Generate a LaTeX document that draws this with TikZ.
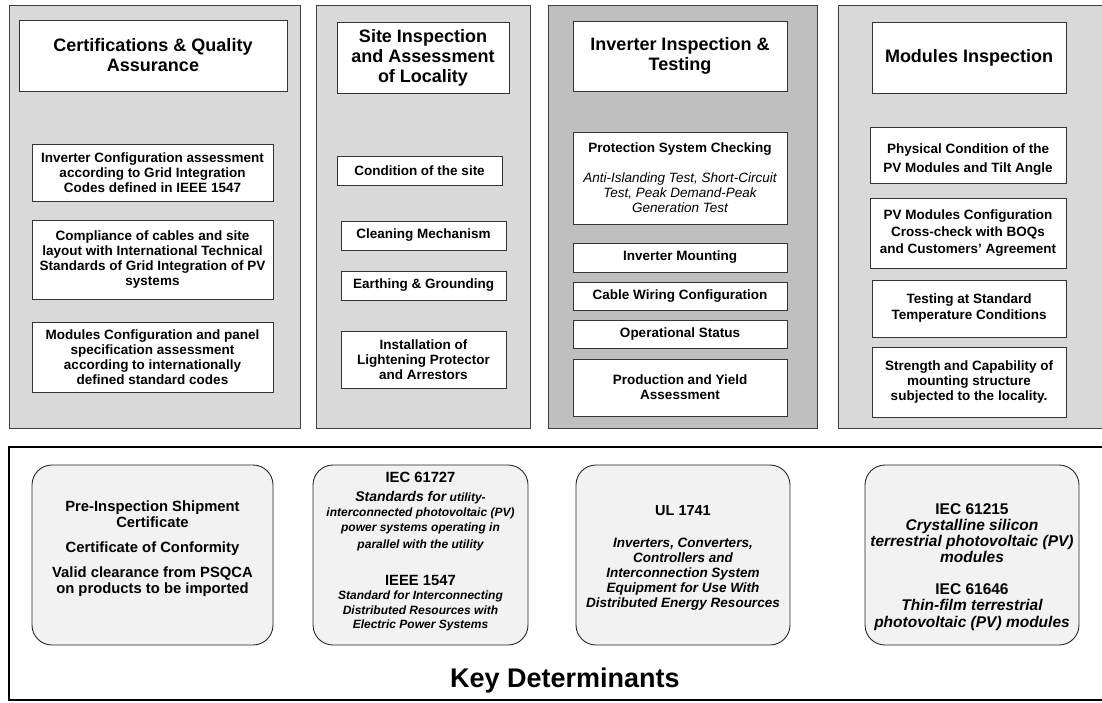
\documentclass[tikz,border=0pt]{standalone}
\usepackage{fontspec}
\setmainfont{Liberation Sans}
\usepackage{tikz}
\definecolor{panelGray}{HTML}{D9D9D9}
\definecolor{panelDark}{HTML}{BFBFBF}
\definecolor{edgeGray}{HTML}{404040}
\definecolor{detFill}{HTML}{F2F2F2}
\tikzset{
    panel/.style={draw=edgeGray, line width=0.9pt, fill=panelGray, inner sep=0pt, minimum height=423pt},
    ttlbox/.style={draw=black!80, line width=0.8pt, fill=white, inner sep=0pt, align=center, font=\bfseries\fontsize{18}{20}\selectfont},
    itembox/.style={draw=black!80, line width=0.8pt, fill=white, inner sep=0pt, align=center, font=\bfseries\fontsize{13.5}{15}\selectfont},
    detbox/.style={draw=black!85, line width=0.9pt, fill=detFill, rounded corners=20pt, inner sep=0pt, minimum height=180pt, align=center, font=\bfseries\fontsize{14.8}{16}\selectfont}
}
\newcommand{\itl}[1]{{\bfseries\itshape\fontsize{12}{14}\selectfont #1}}

\begin{document}
\begin{tikzpicture}[x=1pt, y=-1pt]
    \useasboundingbox (0,0) rectangle (1102,702);
    % column panels
    \node[panel, minimum width=291pt] (panCert) at (154.5,216.5) {};
    \node[panel, minimum width=214pt] (panSite) at (423,216.5) {};
    \node[panel, minimum width=269pt, fill=panelDark] (panInv) at (682.5,216.5) {};
    \node[panel, minimum width=270pt] (panMod) at (973,216.5) {};

    % certifications
    \node[ttlbox, minimum width=268pt, minimum height=71pt] (tCert) at (153,55.5) {Certifications \& Quality\\Assurance};
    \node[itembox, minimum width=241pt, minimum height=57pt] (cInv) at (152.5,172.5) {Inverter Configuration assessment\\according to Grid Integration\\Codes defined in IEEE 1547};
    \node[itembox, minimum width=241pt, minimum height=79pt] (cCab) at (152.5,259.5) {Compliance of cables and site\\layout with International Technical\\Standards of Grid Integration of PV\\systems};
    \node[itembox, minimum width=241pt, minimum height=70pt] (cMod) at (152.5,357) {Modules Configuration and panel\\specification assessment\\according to internationally\\defined standard codes};

    % site inspection
    \node[ttlbox, minimum width=172pt, minimum height=71pt] (tSite) at (423,57.5) {Site Inspection\\and Assessment\\of Locality};
    \node[itembox, minimum width=165pt, minimum height=29pt] (sCond) at (419.5,170.5) {Condition of the site};
    \node[itembox, minimum width=165pt, minimum height=29pt] (sClean) at (423.5,235.5) {Cleaning Mechanism};
    \node[itembox, minimum width=165pt, minimum height=29pt] (sEarth) at (423.5,285.5) {Earthing \& Grounding};
    \node[itembox, minimum width=165pt, minimum height=57pt] (sLight) at (423.5,359.5) {Installation of\\Lightening Protector\\and Arrestors};

    % inverter inspection
    \node[ttlbox, minimum width=214pt, minimum height=70pt] (tInv) at (680,56) {Inverter Inspection \&\\Testing};
    \node[itembox, minimum width=214pt, minimum height=92pt] (iProt) at (680,178) {Protection System Checking\\[15pt]
        {\mdseries\itshape Anti-Islanding Test, Short-Circuit}\\
        {\mdseries\itshape Test, Peak Demand-Peak}\\
        {\mdseries\itshape Generation Test}};
    \node[itembox, minimum width=214pt, minimum height=29pt] (iMount) at (680,257.5) {Inverter Mounting};
    \node[itembox, minimum width=214pt, minimum height=28pt] (iCable) at (680,296) {Cable Wiring Configuration};
    \node[itembox, minimum width=214pt, minimum height=28pt] (iOper) at (680,334) {Operational Status};
    \node[itembox, minimum width=214pt, minimum height=57pt] (iProd) at (680,387.5) {Production and Yield\\Assessment};

    % modules inspection
    \node[ttlbox, minimum width=194pt, minimum height=71pt] (tMod) at (969,57.5) {Modules Inspection};
    \node[itembox, minimum width=196pt, minimum height=56pt] (mPhys) at (968,155) {\rule{0pt}{18pt}Physical Condition of the\\[4pt]PV Modules and Tilt Angle};
    \node[itembox, minimum width=196pt, minimum height=70pt] (mConf) at (968,233) {PV Modules Configuration\\[2pt]Cross-check with BOQs\\[2pt]and Customers’ Agreement};
    \node[itembox, minimum width=194pt, minimum height=57pt] (mTest) at (969,308.5) {Testing at Standard\\[1pt]Temperature Conditions};
    \node[itembox, minimum width=194pt, minimum height=70pt] (mStr) at (969,382) {Strength and Capability of\\mounting structure\\subjected to the locality.};

    % key determinants
    \node[draw=black, line width=2.5pt, inner sep=0pt, minimum width=1100pt, minimum height=253pt] (frame) at (559,573.5) {};
    \node[detbox, minimum width=241pt] (dCert) at (152.5,555) {Pre-Inspection Shipment\\Certificate\\[9pt]Certificate of Conformity\\[9pt]Valid clearance from PSQCA\\on products to be imported\rule[-15pt]{0pt}{15pt}};
    \node[detbox, minimum width=215pt, font=\bfseries\fontsize{14.8}{14.5}\selectfont] (dGrid) at (420.5,555) {IEC 61727\\[4.5pt]
        {\bfseries\itshape\fontsize{14}{14.5}\selectfont Standards for}\itl{\ utility-}\\[0.5pt]
        \itl{interconnected photovoltaic (PV)}\\
        \itl{power systems operating in}\\[2.5pt]
        \itl{parallel with the utility}\\[22.5pt]
        IEEE 1547\\
        \itl{Standard for Interconnecting}\\
        \itl{Distributed Resources with}\\
        \itl{Electric Power Systems}\rule[-8.5pt]{0pt}{8.5pt}};
    \node[detbox, minimum width=214pt, font=\bfseries\fontsize{14.5}{15}\selectfont] (dUL) at (683,555) {\rule{0pt}{16.5pt}UL 1741\\[17pt]
        {\itshape\fontsize{13.5}{15}\selectfont Inverters, Converters,}\\
        {\itshape\fontsize{13.5}{15}\selectfont Controllers and}\\
        {\itshape\fontsize{13.5}{15}\selectfont Interconnection System}\\
        {\itshape\fontsize{13.5}{15}\selectfont Equipment for Use With}\\
        {\itshape\fontsize{13.5}{15}\selectfont Distributed Energy Resources}};
    \node[detbox, minimum width=214pt, font=\bfseries\fontsize{15.5}{16}\selectfont] (dMod) at (972,555) {\rule{0pt}{35pt}IEC 61215\\
        {\itshape Crystalline silicon}\\
        {\itshape terrestrial photovoltaic (PV)}\\
        {\itshape modules}\\[16pt]
        IEC 61646\\
        {\itshape Thin-film terrestrial}\\[1pt]
        {\itshape photovoltaic (PV) modules}};
    \node[font=\bfseries\fontsize{27}{30}\selectfont] (kLabel) at (565,681) {Key Determinants};
\end{tikzpicture}
\end{document}
